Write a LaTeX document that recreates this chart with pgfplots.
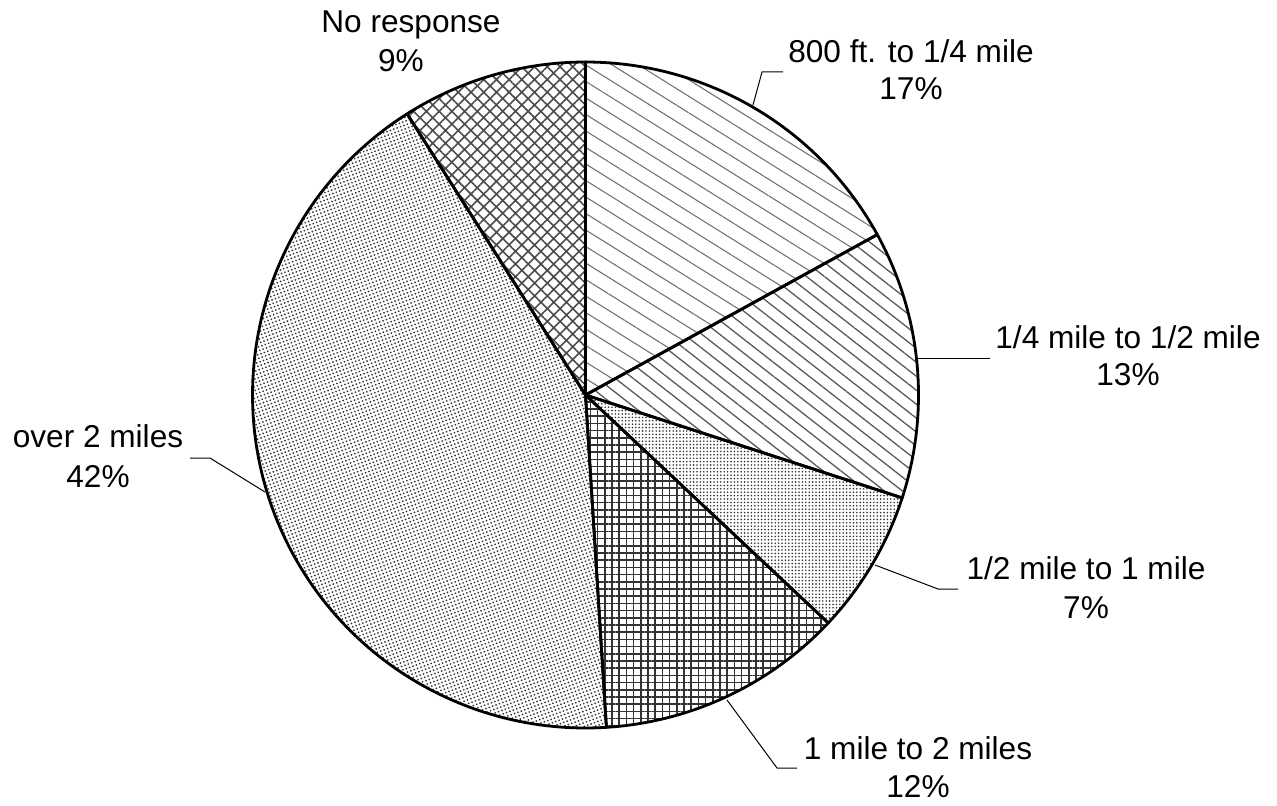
\documentclass[border=0pt]{standalone}
\usepackage{fontspec}
\setmainfont{Liberation Sans}
\usepackage{pgfplots}
\pgfplotsset{compat=1.18}
\usetikzlibrary{patterns,patterns.meta}
% shares (percent), clockwise from 12 o'clock
\def\pA{17}  % 800 ft. to 1/4 mile
\def\pB{13}  % 1/4 mile to 1/2 mile
\def\pC{7}   % 1/2 mile to 1 mile
\def\pD{12}  % 1 mile to 2 miles
\def\pE{42}  % over 2 miles
\def\pF{9}   % No response
\begin{document}
\begin{tikzpicture}
\pgfmathsetmacro\aA{90}
\pgfmathsetmacro\aB{\aA-3.6*\pA}
\pgfmathsetmacro\aC{\aB-3.6*\pB}
\pgfmathsetmacro\aD{\aC-3.6*\pC}
\pgfmathsetmacro\aE{\aD-3.6*\pD}
\pgfmathsetmacro\aF{\aE-3.6*\pE}
\pgfmathsetmacro\aG{\aF-3.6*\pF}
\def\cx{585.5}\def\cy{410}\def\R{333}
\begin{axis}[
  width=638.5pt, height=402.5pt, scale only axis,
  xmin=0, xmax=1277, ymin=0, ymax=805,
  hide axis, clip=false,
  every axis plot/.append style={no markers, draw=black, line width=1.4pt, line join=round},
]
\path (axis cs:0,0) rectangle (axis cs:1277,805);
% slices
\addplot[pattern={Lines[angle=-32,distance=7pt,line width=0.55pt]}, pattern color=black!55, domain=\aB:\aA, samples=60]
  ({\cx+\R*cos(x)},{\cy+\R*sin(x)}) -- (axis cs:\cx,\cy) -- cycle;
\addplot[pattern={Lines[angle=-38,distance=5.5pt,line width=0.65pt]}, pattern color=black!65, domain=\aC:\aB, samples=60]
  ({\cx+\R*cos(x)},{\cy+\R*sin(x)}) -- (axis cs:\cx,\cy) -- cycle;
\addplot[pattern={Dots[distance=1.7pt,radius=0.45pt]}, pattern color=black!80, domain=\aD:\aC, samples=40]
  ({\cx+\R*cos(x)},{\cy+\R*sin(x)}) -- (axis cs:\cx,\cy) -- cycle;
\addplot[pattern={Hatch[angle=0,distance=3.6pt,line width=0.75pt]}, pattern color=black!80, domain=\aE:\aD, samples=60]
  ({\cx+\R*cos(x)},{\cy+\R*sin(x)}) -- (axis cs:\cx,\cy) -- cycle;
\addplot[pattern={Dots[distance=1.8pt,radius=0.5pt,angle=20]}, pattern color=black!80, domain=\aF:\aE, samples=120]
  ({\cx+\R*cos(x)},{\cy+\R*sin(x)}) -- (axis cs:\cx,\cy) -- cycle;
\addplot[pattern={Hatch[angle=45,distance=4.5pt,line width=0.8pt]}, pattern color=black!70, domain=\aG:\aF, samples=40]
  ({\cx+\R*cos(x)},{\cy+\R*sin(x)}) -- (axis cs:\cx,\cy) -- cycle;
% leader lines
\draw[line width=0.5pt] (axis cs:753,{805-105}) -- (axis cs:762,{805-72}) -- (axis cs:783,{805-72});
\draw[line width=0.5pt] (axis cs:917,{805-358}) -- (axis cs:990,{805-358});
\draw[line width=0.5pt] (axis cs:875,{805-565}) -- (axis cs:938,{805-589}) -- (axis cs:958,{805-589});
\draw[line width=0.5pt] (axis cs:727,{805-700}) -- (axis cs:777,{805-768}) -- (axis cs:797,{805-768});
\draw[line width=0.5pt] (axis cs:265,{805-492}) -- (axis cs:210,{805-458}) -- (axis cs:190,{805-458});
% labels
\tikzset{lab/.style={anchor=base, inner sep=0pt, font=\fontsize{15.8}{19}\selectfont}}
\node[lab] at (axis cs:911,{805-63}) {800 ft. to 1/4 mile};
\node[lab] at (axis cs:911,{805-100}) {17\%};
\node[lab] at (axis cs:1128,{805-348}) {1/4 mile to 1/2 mile};
\node[lab] at (axis cs:1128,{805-385}) {13\%};
\node[lab] at (axis cs:1086,{805-579}) {1/2 mile to 1 mile};
\node[lab] at (axis cs:1086,{805-618}) {7\%};
\node[lab] at (axis cs:918,{805-759}) {1 mile to 2 miles};
\node[lab] at (axis cs:918,{805-797}) {12\%};
\node[lab] at (axis cs:98,{805-447}) {over 2 miles};
\node[lab] at (axis cs:98,{805-487}) {42\%};
\node[lab] at (axis cs:411,{805-33}) {No response};
\node[lab] at (axis cs:401,{805-72}) {9\%};
\end{axis}
\end{tikzpicture}
\end{document}
